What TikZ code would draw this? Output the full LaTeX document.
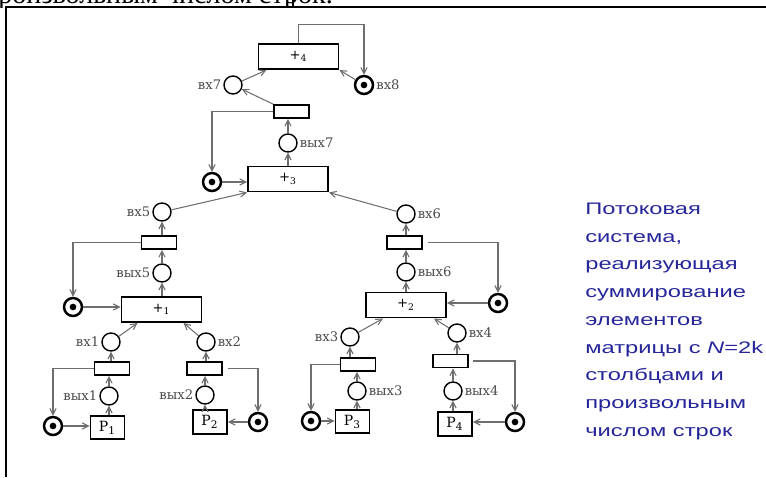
\documentclass[tikz,border=0pt]{standalone}
\usepackage{fontspec}
\usetikzlibrary{arrows.meta, calc}
\newfontfamily\labfont{DejaVu Serif}
\newfontfamily\notefont{Liberation Sans}
\newfontfamily\capfont{Liberation Serif}
\definecolor{noteblue}{HTML}{26269A}
\definecolor{arcgray}{HTML}{6E6E6E}
\definecolor{labgray}{HTML}{4A4A4A}

\begin{document}
\begin{tikzpicture}[x=0.02cm, y=-0.02cm,
  sum/.style={draw, line width=1.1pt, minimum width=1.6cm, minimum height=0.5cm,
              inner sep=0pt, font=\labfont\fontsize{7.5}{7.5}\selectfont},
  trans/.style={draw, line width=1pt, minimum width=0.7cm, minimum height=0.26cm,
                inner sep=0pt},
  proc/.style={draw, line width=1.1pt, minimum width=0.68cm, minimum height=0.47cm,
               inner sep=0pt, font=\labfont\fontsize{8}{8}\selectfont},
  place/.style={circle, draw, line width=0.8pt, minimum size=0.36cm, inner sep=0pt},
  marked/.style={place, line width=1.4pt,
                 path picture={\fill (path picture bounding box.center) circle (1.9pt);}},
  lab/.style={font=\labfont\fontsize{7.5}{7.5}\selectfont, text=labgray, inner sep=1pt},
  arc/.style={-{Straight Barb[length=3.5pt,width=3.5pt]}, draw=arcgray, line width=0.6pt}]
  \useasboundingbox (0,0) rectangle (766,477);

  % slide frame and cut-off caption
  \begin{scope}
    \clip (0,0) rectangle (766,7);
    \node[anchor=base west, inner sep=0pt, font=\capfont\fontsize{16}{16}\selectfont]
      (head) at (-2,3) {роизвольным числом строк.};
  \end{scope}
  \draw[line width=0.9pt] (6,477) -- (6,7) -- (766,7);
  \draw[line width=0.9pt] (293,0) -- (293,7);

  % top level
  \node[sum] (S4) at (298.5,56.5) {+\textsubscript{4}};
  \node[marked, label={[lab]right:вх8}] (x8) at (364,85) {};
  \node[place, label={[lab]left:вх7}] (x7) at (233,85) {};
  \node[trans] (T7) at (291.5,111.5) {};
  \node[place, label={[lab]right:вых7}] (y7) at (288,143) {};
  \node[marked] (m7) at (212,182) {};
  \node[sum] (S3) at (288,179) {+\textsubscript{3}};
  \draw[arc] (S4.north) -- ++(0,-19) -| (x8.north);
  \draw[arc] (x8) -- (S4.south east);
  \draw[arc] (x7) -- ($(S4.south west)+(9,0)$);
  \draw[arc] (T7.north west) -- (x7);
  \draw[arc] (T7.west) -| (m7.north);
  \draw[arc] (m7) -- (m7 -| S3.west);
  \draw[arc] (y7) -- (y7 |- T7.south);
  \draw[arc] (y7 |- S3.north) -- (y7);

  % left half
  \node[place, label={[lab]left:вх5}] (x5) at (162,212) {};
  \node[trans] (T5) at (159,242.5) {};
  \node[place, label={[lab]left:вых5}] (y5) at (162,273) {};
  \node[marked] (m5) at (73,307) {};
  \node[sum] (S1) at (161.5,309.5) {+\textsubscript{1}};
  \draw[arc] (x5) -- (S3.south west);
  \draw[arc] (x5 |- T5.north) -- (x5);
  \draw[arc] (T5.west) -| (m5.north);
  \draw[arc] (m5) -- (m5 -| S1.west);
  \draw[arc] (y5) -- (y5 |- T5.south);
  \draw[arc] (y5 |- S1.north) -- (y5);

  % right half
  \node[place, label={[lab]right:вх6}] (x6) at (406,214) {};
  \node[trans] (T6) at (404.5,242.5) {};
  \node[place, label={[lab]right:вых6}] (y6) at (406,272) {};
  \node[marked] (m6) at (498,303) {};
  \node[sum] (S2) at (406,305) {+\textsubscript{2}};
  \draw[arc] (x6) -- (S3.south east);
  \draw[arc] (x6 |- T6.north) -- (x6);
  \draw[arc] ($(T6.east)+(5,0)$) -| (m6.north);
  \draw[arc] (m6) -- (m6 -| S2.east);
  \draw[arc] (y6) -- (y6 |- T6.south);
  \draw[arc] (y6 |- S2.north) -- (y6);

  % column 1
  \node[place, label={[lab]left:вх1}] (x1) at (111,342) {};
  \node[trans] (T1) at (112,368.5) {};
  \node[place, label={[lab]left:вых1}] (y1) at (109,396) {};
  \node[proc] (P1) at (107.5,427.5) {P\textsubscript{1}};
  \node[marked] (m1) at (53,426) {};
  \draw[arc] (x1) -- ($(S1.south west)+(17,0)$);
  \draw[arc] (x1 |- T1.north) -- (x1);
  \draw[arc] (T1.west) -| (m1.north);
  \draw[arc] (m1) -- (m1 -| P1.west);
  \draw[arc] (y1) -- (y1 |- T1.south);
  \draw[arc] (y1 |- P1.north) -- (y1);

  % column 2
  \node[place, label={[lab]right:вх2}] (x2) at (206,342) {};
  \node[trans] (T2) at (204.5,368.5) {};
  \node[place, label={[lab]left:вых2}] (y2) at (205,395) {};
  \node[proc] (P2) at (210,422) {P\textsubscript{2}};
  \node[marked] (m2) at (258,422) {};
  \draw[arc] (x2) -- ($(S1.south east)+(-19,0)$);
  \draw[arc] (x2 |- T2.north) -- (x2);
  \draw[arc] ($(T2.east)+(5,0)$) -| (m2.north);
  \draw[arc] (m2) -- (m2 -| P2.east);
  \draw[arc] (y2) -- (y2 |- T2.south);
  \draw[arc] (y2 |- P2.north) -- (y2);

  % column 3
  \node[place, label={[lab]left:вх3}] (x3) at (350,337) {};
  \node[trans] (T3) at (358,364.5) {};
  \node[place, label={[lab]right:вых3}] (y3) at (357,391) {};
  \node[proc] (P3) at (352.5,421.5) {P\textsubscript{3}};
  \node[marked] (m3) at (311,421) {};
  \draw[arc] (x3) -- ($(S2.south west)+(18,0)$);
  \draw[arc] (x3 |- T3.north) -- (x3);
  \draw[arc] (T3.west) -| (m3.north);
  \draw[arc] (m3) -- (m3 -| P3.west);
  \draw[arc] (y3) -- (y3 |- T3.south);
  \draw[arc] (y3 |- P3.north) -- (y3);

  % column 4
  \node[place, label={[lab]right:вх4}] (x4) at (457,333) {};
  \node[trans] (T4) at (450.5,361) {};
  \node[place, label={[lab]right:вых4}] (y4) at (453,391) {};
  \node[proc] (P4) at (455,424) {P\textsubscript{4}};
  \node[marked] (m4) at (515,422) {};
  \draw[arc] (x4) -- ($(S2.south east)+(-13,0)$);
  \draw[arc] (x4 |- T4.north) -- (x4);
  \draw[arc] ($(T4.east)+(4,0)$) -| (m4.north);
  \draw[arc] (m4) -- (m4 -| P4.east);
  \draw[arc] (y4) -- (y4 |- T4.south);
  \draw[arc] (y4 |- P4.north) -- (y4);

  % caption on the right
  \node[anchor=north west, inner sep=0pt, text=noteblue,
        font=\notefont\fontsize{9.5}{15.8}\selectfont] (note) at (585,194.5)
    {\scalebox{1.42}[1]{\begin{tabular}{@{}l@{}}
      Потоковая\\ система,\\ реализующая\\ суммирование\\ элементов\\
      матрицы с \textit{N}=2k\\ столбцами и\\ произвольным\\ числом строк
    \end{tabular}}};
\end{tikzpicture}
\end{document}
